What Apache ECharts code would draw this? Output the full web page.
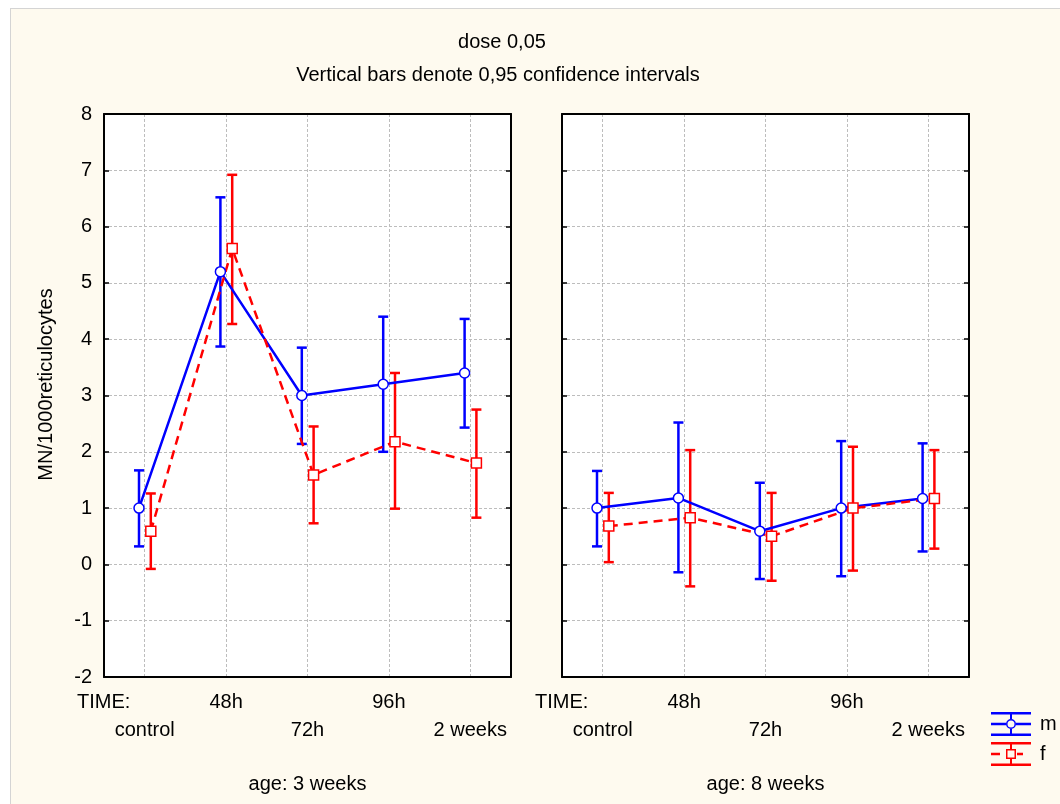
<!DOCTYPE html>
<html>
<head>
<meta charset="utf-8">
<title>dose 0,05</title>
<script src="https://cdn.jsdelivr.net/npm/echarts@6/dist/echarts.min.js"></script>
<style>
html, body { margin: 0; padding: 0; background: #fff; }
#bg { position: absolute; left: 10px; top: 8px; right: 0; bottom: 0; background: #fefaef; border-left: 1px solid #d4d4d4; border-top: 1px solid #d4d4d4; }
#chartmain { position: absolute; left: 0; top: 0; width: 1060px; height: 804px; }
</style>
</head>
<body>
<div id="bg"></div>
<div id="chartmain"></div>
<script>
var categories = ['control', '48h', '72h', '96h', '2 weeks'];
var yMin = -2, yMax = 8;

// age: 3 weeks
var m3Mean = [1.0, 5.2, 3.0, 3.2, 3.4];
var m3Low = [0.32, 3.87, 2.14, 2.0, 2.43];
var m3High = [1.67, 6.52, 3.85, 4.40, 4.36];
var f3Mean = [0.59, 5.61, 1.59, 2.18, 1.80];
var f3Low = [-0.08, 4.27, 0.73, 0.99, 0.83];
var f3High = [1.26, 6.92, 2.45, 3.40, 2.75];

// age: 8 weeks
var m8Mean = [1.0, 1.18, 0.59, 1.0, 1.17];
var m8Low = [0.32, -0.14, -0.26, -0.21, 0.23];
var m8High = [1.66, 2.52, 1.45, 2.19, 2.15];
var f8Mean = [0.68, 0.83, 0.50, 1.0, 1.17];
var f8Low = [0.04, -0.39, -0.29, -0.11, 0.28];
var f8High = [1.27, 2.03, 1.27, 2.09, 2.03];

var FONT = '"Liberation Sans", Arial, sans-serif';
var FS = 20;
var BLUE = '#0000ff', RED = '#ff0000';

var mIcon = 'path://M0,0H40V2.4H0Z M0,21.6H40V24H0Z M0,10.8H15V13.2H0Z M25,10.8H40V13.2H25Z ' +
    'M19,2.4H21V7H19Z M19,17H21V21.6H19Z ' +
    'M25,12A5,5,0,1,0,15,12A5,5,0,1,0,25,12Z M23.5,12A3.5,3.5,0,1,1,16.5,12A3.5,3.5,0,1,1,23.5,12Z';
var fIcon = 'path://M0,0H40V2.4H0Z M0,21.6H40V24H0Z M0,10.8H9V13.2H0Z M26,10.8H32V13.2H26Z ' +
    'M19,2.4H21V7H19Z M19,17H21V21.6H19Z ' +
    'M15,7H25V17H15Z M16.5,8.5V15.5H23.5V8.5Z';

var panels = [
    {left: 104, age: 'age: 3 weeks', m: [m3Mean, m3Low, m3High], f: [f3Mean, f3Low, f3High]},
    {left: 562, age: 'age: 8 weeks', m: [m8Mean, m8Low, m8High], f: [f8Mean, f8Low, f8High]}
];

function errBar(params, api) {
    var x = api.value(0);
    var lo = api.coord([x, api.value(1)]);
    var hi = api.coord([x, api.value(2)]);
    var c = api.visual('color');
    var w = 5;
    function seg(x1, y1, x2, y2) {
        return {type: 'line', shape: {x1: x1, y1: y1, x2: x2, y2: y2}, style: {stroke: c, lineWidth: 2.5}};
    }
    return {type: 'group', children: [
        seg(lo[0], lo[1], hi[0], hi[1]),
        seg(lo[0] - w, lo[1], lo[0] + w, lo[1]),
        seg(hi[0] - w, hi[1], hi[0] + w, hi[1])
    ]};
}

var grid = [], xAxis = [], yAxis = [], series = [];
var gridLine = {show: true, lineStyle: {color: '#bdbdbd', type: [3, 2], width: 1}};
var black = {color: '#000', width: 2};
var tick = {inside: true, length: 5, lineStyle: {color: '#000', width: 1.5}};
var txt = {fontSize: FS, color: '#000', fontFamily: FONT};

panels.forEach(function(p, g) {
    grid.push({left: p.left, top: 114, width: 407, height: 563, show: true,
        backgroundColor: '#fff', borderWidth: 0, outerBoundsMode: 'none'});

    xAxis.push({
        gridIndex: g, type: 'category', position: 'bottom', data: categories, boundaryGap: true,
        axisLine: {onZero: false, lineStyle: black},
        axisTick: {inside: true, alignWithLabel: true, length: 5, lineStyle: tick.lineStyle},
        axisLabel: {
            interval: 0, fontSize: FS, color: '#000', fontFamily: FONT, lineHeight: 28, margin: 11,
            formatter: function(v, i) { return i % 2 === 0 ? '\n' + v : v; }
        },
        splitLine: {show: true, alignWithLabel: true, lineStyle: gridLine.lineStyle},
        name: p.age, nameLocation: 'middle', nameGap: 97, nameTextStyle: txt
    });
    xAxis.push({
        gridIndex: g, type: 'category', position: 'top', data: categories, boundaryGap: true,
        axisLine: {onZero: false, lineStyle: black},
        axisTick: {inside: true, alignWithLabel: true, length: 5, lineStyle: tick.lineStyle},
        axisLabel: {show: false}, splitLine: {show: false}
    });
    // hidden value axis so the two sexes can sit either side of the category centre
    xAxis.push({gridIndex: g, type: 'value', min: -0.5, max: 4.5, show: false, axisLine: {onZero: false}});

    yAxis.push({
        gridIndex: g, type: 'value', position: 'left', min: yMin, max: yMax, interval: 1,
        axisLine: {show: true, onZero: false, lineStyle: black},
        axisTick: tick,
        axisLabel: {show: g === 0, fontSize: FS, color: '#000', fontFamily: FONT, margin: 12},
        splitLine: gridLine,
        name: g === 0 ? 'MN/1000reticulocytes' : '', nameLocation: 'middle', nameGap: 48,
        nameTextStyle: {fontSize: FS, color: '#000', fontFamily: FONT, padding: [0, 0, 0, 22]}
    });
    yAxis.push({
        gridIndex: g, type: 'value', position: 'right', min: yMin, max: yMax, interval: 1,
        axisLine: {show: true, onZero: false, lineStyle: black},
        axisTick: tick, axisLabel: {show: false}, splitLine: {show: false}
    });

    var xi = g * 3 + 2, yi = g * 2;
    var sets = [
        {name: 'm', d: p.m, shift: -0.07, color: BLUE, symbol: 'circle', size: 10, dash: 'solid'},
        {name: 'f', d: p.f, shift: 0.075, color: RED, symbol: 'rect', size: 10, dash: [9, 6]}
    ];
    sets.forEach(function(s) {
        series.push({
            name: s.name, type: 'custom', xAxisIndex: xi, yAxisIndex: yi,
            itemStyle: {color: s.color}, renderItem: errBar, encode: {x: 0, y: [1, 2]}, z: 2,
            data: categories.map(function(c, i) { return [i + s.shift, s.d[1][i], s.d[2][i]]; })
        });
    });
    sets.forEach(function(s) {
        series.push({
            name: s.name, type: 'line', xAxisIndex: xi, yAxisIndex: yi, z: 3,
            symbol: s.symbol, symbolSize: s.size, showAllSymbol: true,
            lineStyle: {color: s.color, width: 2.5, type: s.dash},
            itemStyle: {color: '#fff', borderColor: s.color, borderWidth: 1.5},
            emphasis: {disabled: true},
            data: categories.map(function(c, i) { return [i + s.shift, s.d[0][i]]; })
        });
    });
});

var option = {
    animation: false,
    backgroundColor: 'transparent',
    textStyle: {fontFamily: FONT},
    grid: grid,
    xAxis: xAxis,
    yAxis: yAxis,
    legend: {
        orient: 'vertical', left: 991, top: 712, padding: 0, itemGap: 6,
        itemWidth: 40, itemHeight: 24,
        textStyle: {fontSize: FS, color: '#000', fontFamily: FONT, padding: [0, 0, 0, 4]},
        data: [
            {name: 'm', icon: mIcon, itemStyle: {color: BLUE, borderWidth: 0}},
            {name: 'f', icon: fIcon, itemStyle: {color: RED, borderWidth: 0}}
        ]
    },
    graphic: [
        {type: 'text', x: 502, y: 42, style: {text: 'dose 0,05', align: 'center', verticalAlign: 'middle', fontSize: FS, fontFamily: FONT, fill: '#000'}},
        {type: 'text', x: 498, y: 75, style: {text: 'Vertical bars denote 0,95 confidence intervals', align: 'center', verticalAlign: 'middle', fontSize: FS, fontFamily: FONT, fill: '#000'}},
        {type: 'text', x: 77, y: 702, style: {text: 'TIME:', align: 'left', verticalAlign: 'middle', fontSize: FS, fontFamily: FONT, fill: '#000'}},
        {type: 'text', x: 535, y: 702, style: {text: 'TIME:', align: 'left', verticalAlign: 'middle', fontSize: FS, fontFamily: FONT, fill: '#000'}}
    ],
    series: series
};

var myChart = echarts.init(document.getElementById('chartmain'));
myChart.setOption(option);
</script>
</body>
</html>
